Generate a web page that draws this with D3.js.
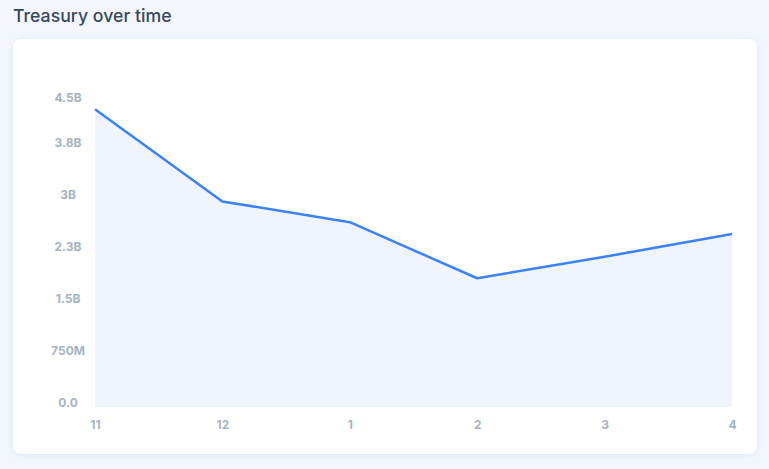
<!DOCTYPE html>
<html><head><meta charset="utf-8">
<script src="https://cdn.jsdelivr.net/npm/d3@7"></script>
<style>
html,body{margin:0;padding:0;background:#f3f6fd;width:769px;height:469px;overflow:hidden;font-family:Inter,"Noto Sans",sans-serif;}
</style></head><body>
<svg id="c" width="769" height="469"></svg>
<script>
const months = ["11","12","1","2","3","4"];
const treasury = [4.30e9, 2.97e9, 2.67e9, 1.86e9, 2.17e9, 2.50e9];
const yTicks = [0, 0.75e9, 1.5e9, 2.25e9, 3e9, 3.75e9, 4.5e9];
const yTickLabels = ["0.0","750M","1.5B","2.3B","3B","3.8B","4.5B"];

const svg = d3.select("#c");
const defs = svg.append("defs");
const f = defs.append("filter").attr("id","sh").attr("x","-5%").attr("y","-5%").attr("width","110%").attr("height","110%");
f.append("feDropShadow").attr("dx",0).attr("dy",1).attr("stdDeviation",3).attr("flood-color","#c9d6ee").attr("flood-opacity",0.5);

svg.append("text").attr("x",13).attr("y",22).text("Treasury over time")
  .attr("font-size",17.7).attr("font-weight",500).attr("fill","#37475c");

svg.append("rect").attr("x",13).attr("y",39).attr("width",744).attr("height",415)
  .attr("rx",8).attr("fill","#fff").attr("filter","url(#sh)");

const x = d3.scalePoint().domain(months).range([95,732]);
const y = d3.scaleLinear().domain([0,4.5e9]).range([407,95.5]);

const data = months.map((m,i)=>({m, v:treasury[i]}));
svg.append("path").datum(data)
  .attr("d", d3.area().x(d=>x(d.m)).y0(y(0)).y1(d=>y(d.v)))
  .attr("fill","#f0f5fd");
svg.append("path").datum(data)
  .attr("d", d3.line().x(d=>x(d.m)).y(d=>y(d.v)))
  .attr("fill","none").attr("stroke","#3b82f6").attr("stroke-width",2.5).attr("stroke-linejoin","round");

const ya = svg.append("g").attr("transform","translate(68,0)")
  .call(d3.axisLeft(y).tickValues(yTicks).tickSize(0).tickFormat((d,i)=>yTickLabels[i]));
ya.select(".domain").remove();
ya.selectAll("text").attr("x",0).attr("text-anchor","middle")
  .attr("font-family","Inter,'Noto Sans',sans-serif").attr("font-size",12).attr("font-weight",700).attr("fill","#a5b4c3")
  .attr("y",(d)=> Math.max(y(d)-5, 97) - y(d)).attr("dy","0.35em");

const xa = svg.append("g").attr("transform","translate(0,425)")
  .call(d3.axisBottom(x).tickSize(0));
xa.select(".domain").remove();
xa.selectAll("text").attr("y",0).attr("dy","0.35em")
  .attr("font-family","Inter,'Noto Sans',sans-serif").attr("font-size",12).attr("font-weight",700).attr("fill","#a5b4c3");
</script>
</body></html>
